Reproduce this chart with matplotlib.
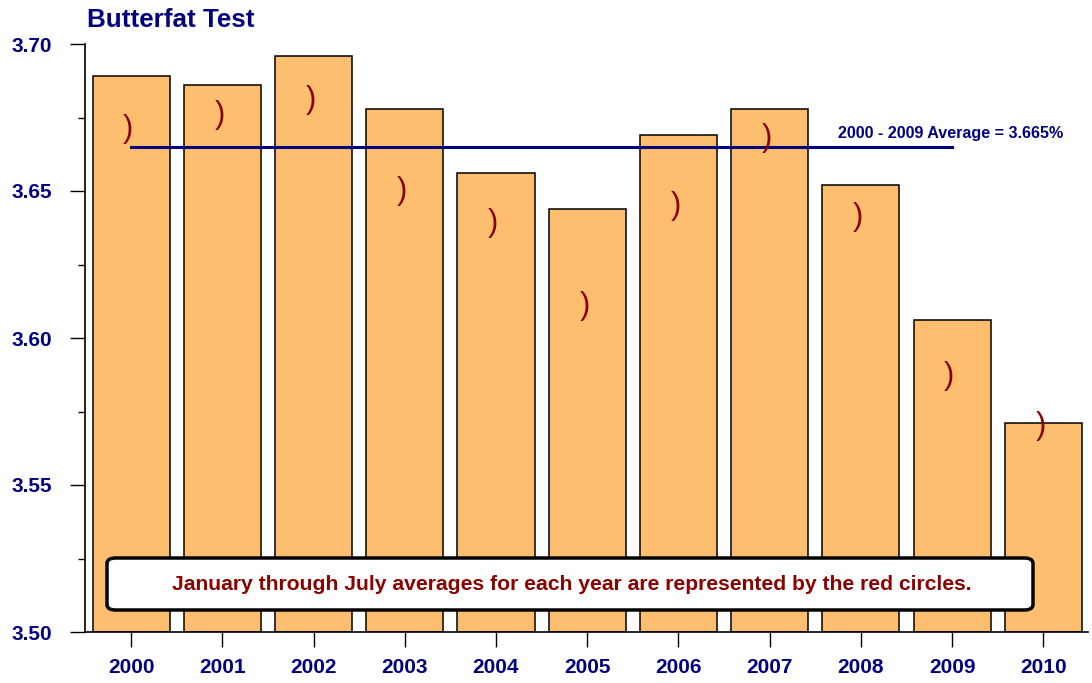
import matplotlib.pyplot as plt
from matplotlib.patches import FancyBboxPatch
from matplotlib.ticker import MultipleLocator

plt.rcParams['font.family'] = ['Liberation Sans', 'DejaVu Sans']

years = ['2000', '2001', '2002', '2003', '2004', '2005',
         '2006', '2007', '2008', '2009', '2010']
annual = [3.689, 3.686, 3.696, 3.678, 3.656, 3.644,
          3.669, 3.678, 3.652, 3.606, 3.571]
jan_jul = [3.671, 3.676, 3.681, 3.650, 3.639, 3.611,
           3.645, 3.668, 3.641, 3.587, 3.570]
avg_value = 3.665
avg_label = '2000 - 2009 Average = 3.665%'
note = 'January through July averages for each year are represented by the red circles.'

navy = '#000080'
darkred = '#8B0000'

fig = plt.figure(figsize=(10.92, 6.83), dpi=100)
ax = fig.add_axes([85 / 1092, 1 - 632 / 683, 1003 / 1092, 588 / 683])

x = list(range(len(years)))
ax.bar(x, [v - 3.5 for v in annual], bottom=3.5, width=0.845,
       color='#FDBF6F', edgecolor='black', linewidth=1.1, zorder=2)

# average line from 2000 to 2009
ax.plot([0, 9], [avg_value, avg_value], color=navy, linewidth=2.2, zorder=3)
ax.text(7.75, avg_value + 0.0045, avg_label, color=navy, fontsize=11.6,
        fontweight='bold', ha='left', va='center', zorder=4)

# Jan-Jul markers (rendered as ")" glyphs in the original)
for xi, v in zip(x, jan_jul):
    ax.text(xi - 0.03, v, ')', color=darkred, fontsize=22, ha='center',
            va='center', zorder=4)

ax.set_xlim(-0.505, 10.49)
ax.set_ylim(3.50, 3.70)
ax.yaxis.set_major_locator(MultipleLocator(0.05))
ax.yaxis.set_minor_locator(MultipleLocator(0.025))
ax.set_xticks(x)
ax.set_xticklabels(years)
ax.set_yticklabels(['%.2f' % t for t in ax.get_yticks()])

for lab in ax.get_xticklabels() + ax.get_yticklabels():
    lab.set_color(navy)
    lab.set_fontweight('bold')
    lab.set_fontsize(15)

ax.tick_params(axis='y', which='major', length=10.8, width=1, pad=13)
ax.tick_params(axis='y', which='minor', length=5, width=1)
ax.tick_params(axis='x', which='major', length=10.8, width=1, pad=8)

for s in ['top', 'right']:
    ax.spines[s].set_visible(False)
for s in ['left', 'bottom']:
    ax.spines[s].set_linewidth(1.2)

# note box
box = FancyBboxPatch((107 / 1092, 1 - 610 / 683), 926 / 1092, 52 / 683,
                     boxstyle='round,pad=0,rounding_size=0.008',
                     transform=fig.transFigure, facecolor='white',
                     edgecolor='black', linewidth=2.5, zorder=5)
fig.patches.append(box)
fig.text(572 / 1092, 1 - 584 / 683, note, color=darkred, fontsize=15.2,
         fontweight='bold', ha='center', va='center', zorder=6)

fig.text(87 / 1092, 1 - 20 / 683, 'Butterfat Test', color=navy, fontsize=18.7,
         fontweight='bold', ha='left', va='center')

fig.savefig('out.png', dpi=100)
